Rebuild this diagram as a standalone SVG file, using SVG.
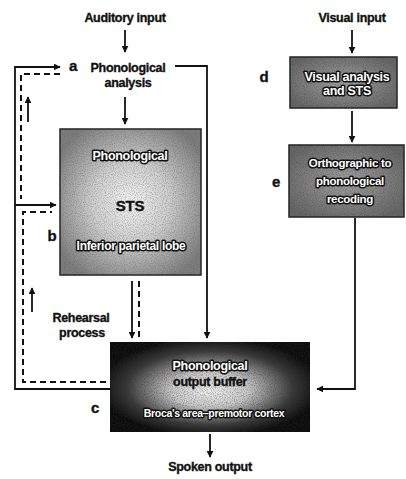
<svg xmlns="http://www.w3.org/2000/svg" width="406" height="479" viewBox="0 0 406 479">
<style>
text{font-family:"Liberation Sans",Arial,sans-serif;font-weight:bold;fill:#111;stroke:#111;stroke-width:0.35px;text-anchor:middle;letter-spacing:-0.3px}
.t{font-size:12.5px}
.lbl{font-size:15px}
.halo{fill:#fff;stroke:#111;stroke-width:3px;paint-order:stroke;stroke-linejoin:round}
.ln{fill:none;stroke:#111;stroke-width:1.8}
.ds{fill:none;stroke:#111;stroke-width:2;stroke-dasharray:6 4}
.arr{marker-end:url(#ah)}
.box{stroke:#222;stroke-width:1.5}
</style>
<defs>
<marker id="ah" viewBox="0 0 10 10" refX="9" refY="5" markerWidth="7" markerHeight="7" markerUnits="userSpaceOnUse" orient="auto">
<path d="M0,0 L10,5 L0,10 z" fill="#111"/>
</marker>
<radialGradient id="gb" cx="0.5" cy="0.5" r="0.6">
<stop offset="0" stop-color="#f4f4f4"/>
<stop offset="0.45" stop-color="#cfcfcf"/>
<stop offset="1" stop-color="#7d7d7d"/>
</radialGradient>
<radialGradient id="gc" cx="0.5" cy="0.5" r="0.55" fx="0.5" fy="0.55">
<stop offset="0" stop-color="#f0f0f0"/>
<stop offset="0.35" stop-color="#c8c8c8"/>
<stop offset="0.75" stop-color="#3a3a3a"/>
<stop offset="1" stop-color="#0c0c0c"/>
</radialGradient>
<radialGradient id="gd" cx="0.5" cy="0.5" r="0.6">
<stop offset="0" stop-color="#a0a0a0"/>
<stop offset="1" stop-color="#666"/>
</radialGradient>
<filter id="grain" x="0" y="0" width="1" height="1">
<feTurbulence type="fractalNoise" baseFrequency="0.9" numOctaves="1" seed="3" result="n"/>
<feColorMatrix in="n" type="matrix" values="0 0 0 0 0  0 0 0 0 0  0 0 0 0 0  0 0 0 -2.2 1.25" result="a"/>
<feComposite in="SourceGraphic" in2="a" operator="in"/>
</filter>
</defs>

<g id="connectors">
<line class="ln arr" x1="125" y1="30" x2="125" y2="52"/>
<line class="ln arr" x1="125" y1="97" x2="125" y2="124"/>
<polyline class="ln arr" points="175,66 207,66 207,338"/>
<polyline class="ln arr" points="110,389 15,389 15,67 60,67"/>
<line class="ln arr" x1="15" y1="205" x2="56" y2="205"/>
<polyline class="ds" points="60,74 21,74 21,199"/>
<polyline class="ds" points="106,382 23,382 23,212 52,212"/>
<line class="ln arr" x1="28" y1="122" x2="28" y2="97"/>
<line class="ln arr" x1="32" y1="312" x2="32" y2="288"/>
<line class="ln arr" x1="132" y1="281" x2="132" y2="338"/>
<line class="ds" x1="139" y1="281" x2="139" y2="341"/>
<line class="ln arr" x1="210" y1="434" x2="210" y2="457"/>
<line class="ln arr" x1="352" y1="30" x2="352" y2="53"/>
<line class="ln arr" x1="352" y1="111" x2="352" y2="142"/>
<polyline class="ln arr" points="355,218 355,389 317,389"/>
</g>

<g id="auditory-input"><text class="t" x="125" y="22">Auditory input</text></g>
<g id="visual-input"><text class="t" x="352" y="22">Visual input</text></g>

<g id="node-a">
<text class="lbl" x="73" y="71">a</text>
<text class="t" x="128" y="72">Phonological</text>
<text class="t" x="128" y="87">analysis</text>
</g>

<g id="node-b">
<rect class="box" x="60" y="129" width="141" height="146" fill="url(#gb)"/>
<rect x="60" y="129" width="141" height="146" fill="#555" opacity="0.45" filter="url(#grain)"/>
<text class="t halo" x="130" y="160">Phonological</text>
<text x="130" y="211" style="font-size:15px">STS</text>
<text class="halo" x="131" y="250" style="font-size:12px">Inferior parietal lobe</text>
<text class="lbl" x="52" y="241">b</text>
</g>

<g id="rehearsal">
<text class="t" x="81" y="322">Rehearsal</text>
<text class="t" x="82" y="337">process</text>
</g>

<g id="node-c">
<rect x="110" y="342" width="200" height="90" fill="url(#gc)"/>
<rect x="110" y="342" width="200" height="90" fill="#333" opacity="0.5" filter="url(#grain)"/>
<text class="t halo" x="210" y="370">Phonological</text>
<text class="t" x="210" y="386">output buffer</text>
<text class="halo" x="214" y="417" style="font-size:10.5px">Broca's area–premotor cortex</text>
<text class="lbl" x="95" y="413">c</text>
</g>

<g id="spoken-output"><text class="t" x="210" y="471">Spoken output</text></g>

<g id="node-d">
<rect class="box" x="290" y="57" width="107" height="51" fill="url(#gd)"/>
<rect x="290" y="57" width="107" height="51" fill="#444" opacity="0.5" filter="url(#grain)"/>
<text class="t halo" x="347" y="81">Visual analysis</text>
<text class="t halo" x="347" y="95">and STS</text>
<text class="lbl" x="264" y="82">d</text>
</g>

<g id="node-e">
<rect class="box" x="289" y="145" width="115" height="72" fill="url(#gd)"/>
<rect x="289" y="145" width="115" height="72" fill="#444" opacity="0.5" filter="url(#grain)"/>
<text class="halo" x="350" y="167" style="font-size:11.5px">Orthographic to</text>
<text class="halo" x="350" y="185" style="font-size:11.5px">phonological</text>
<text class="halo" x="350" y="203" style="font-size:11.5px">recoding</text>
<text class="lbl" x="276" y="187">e</text>
</g>
</svg>
